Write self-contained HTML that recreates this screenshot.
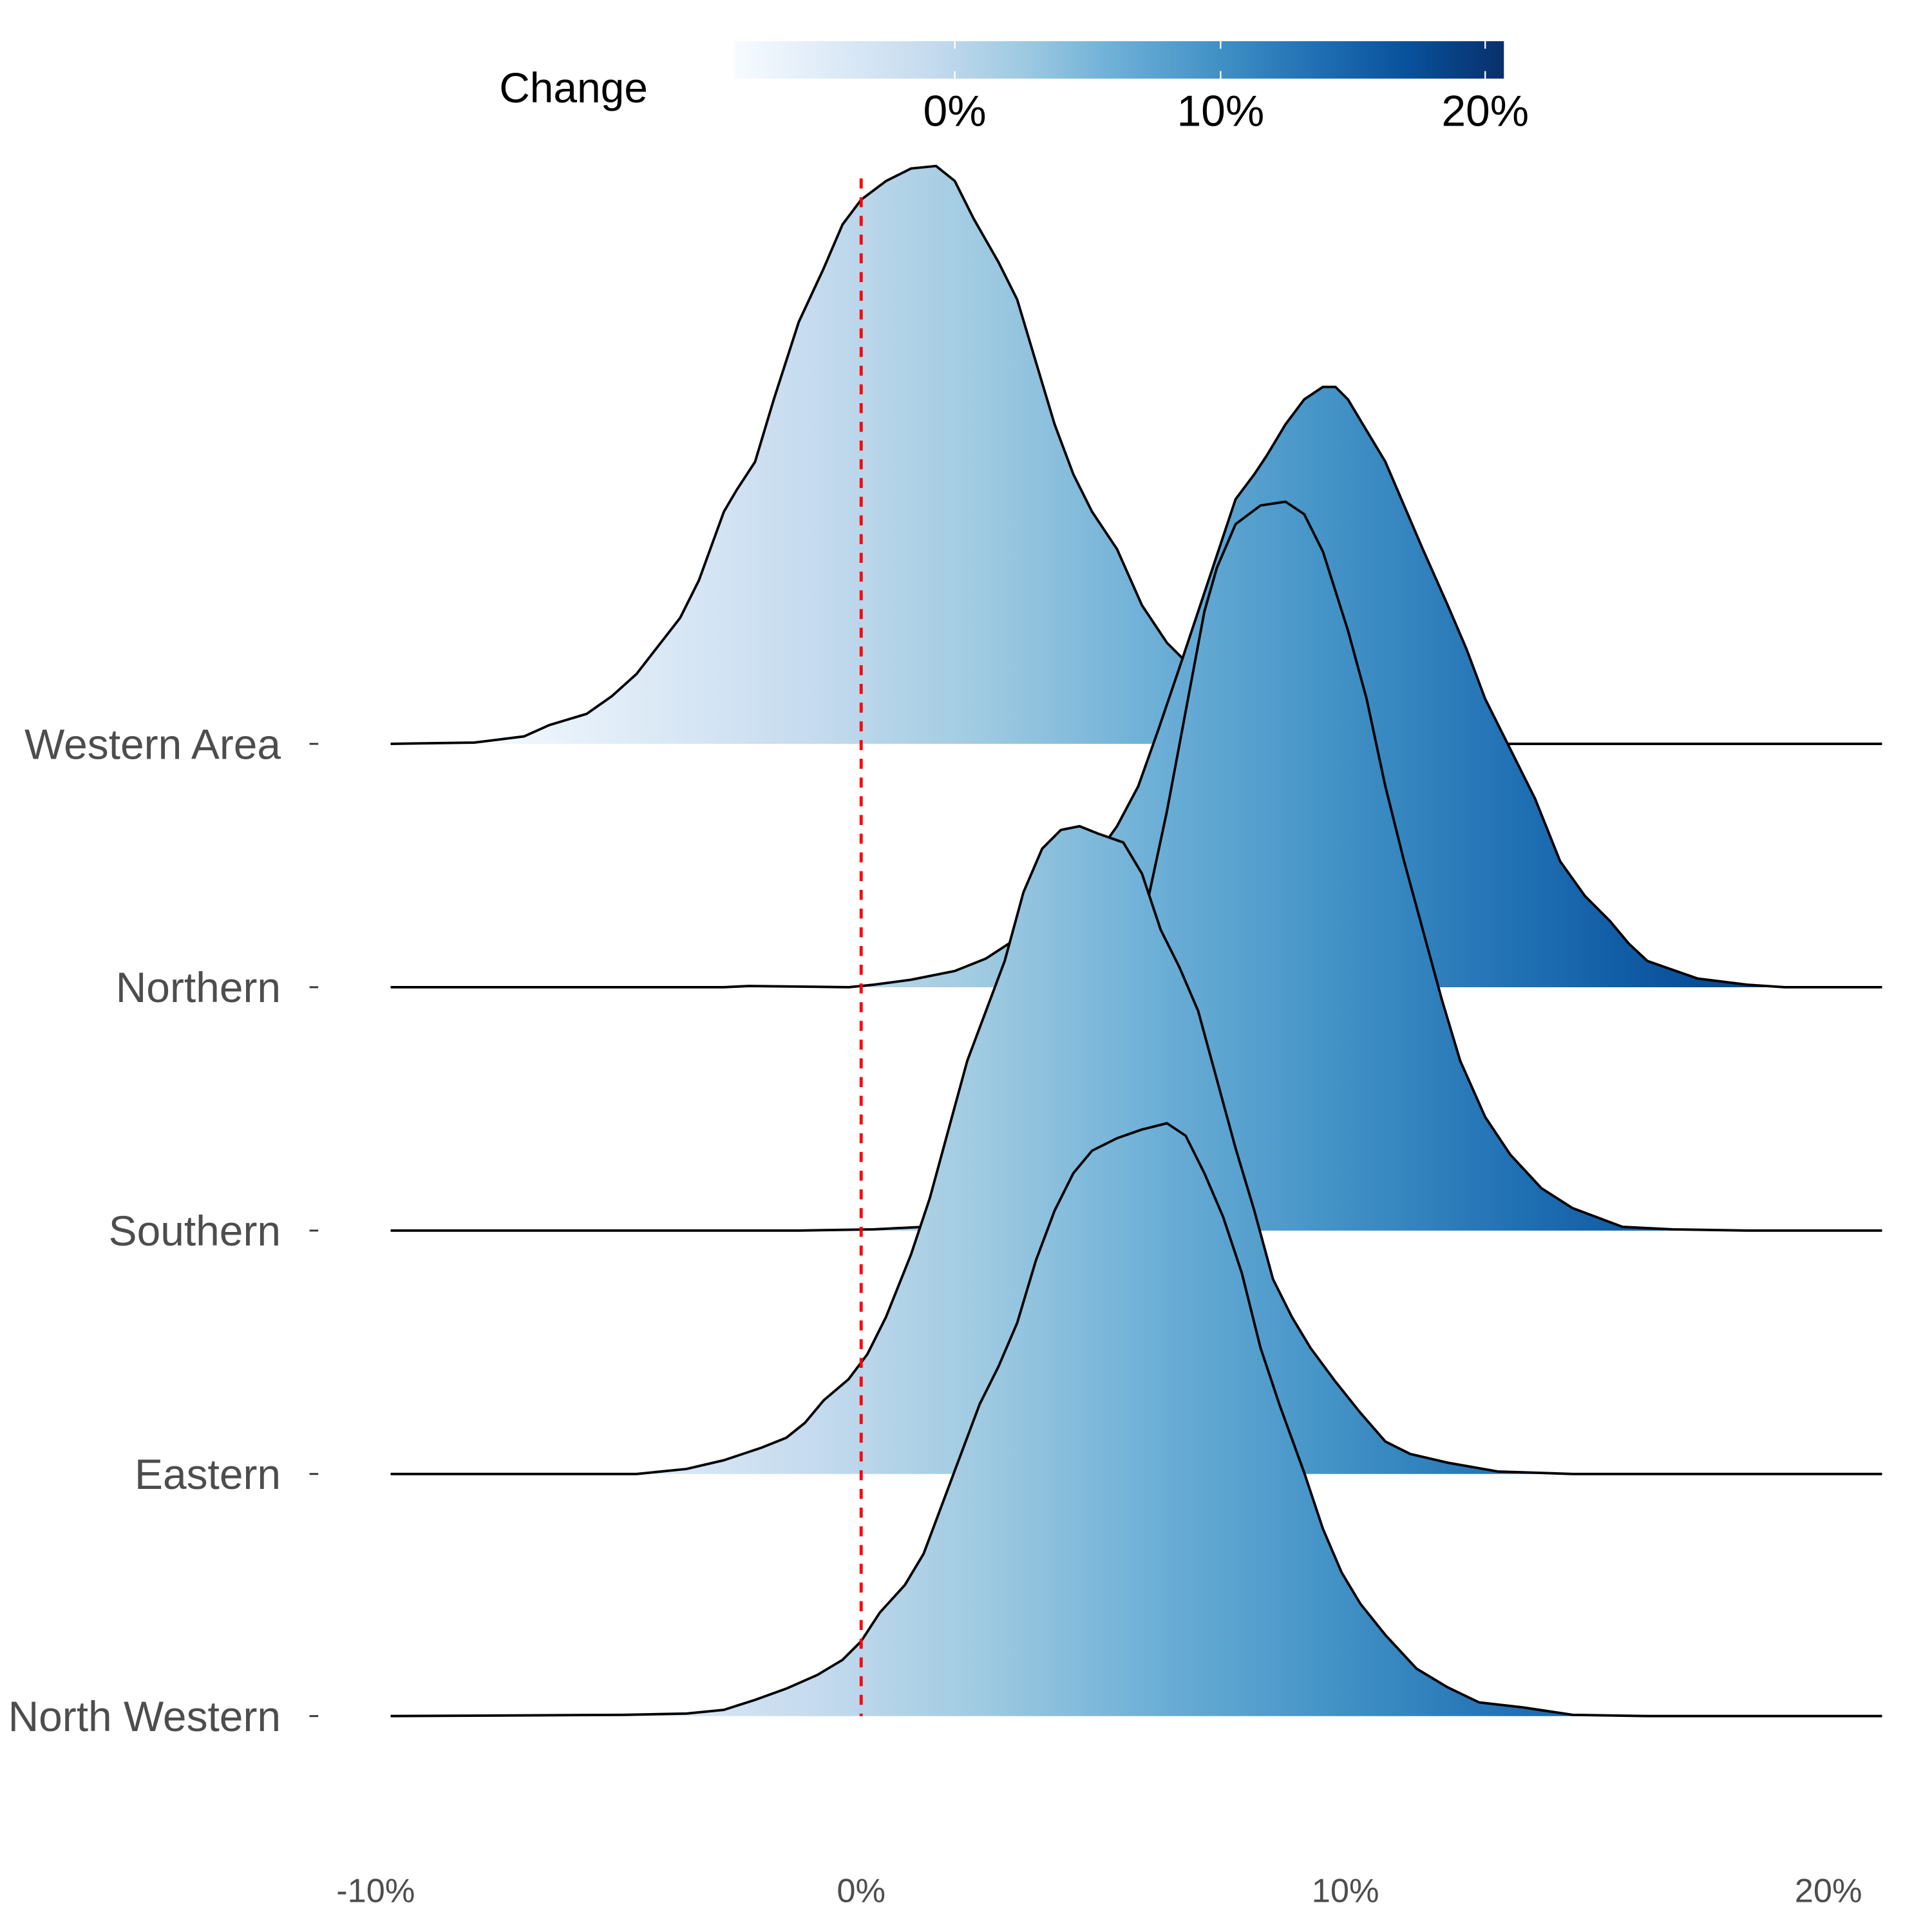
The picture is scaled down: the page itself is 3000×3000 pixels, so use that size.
<!DOCTYPE html>
<html><head><meta charset="utf-8"><style>
html,body{margin:0;padding:0;background:#fff;}
svg{display:block;}
</style></head><body>
<svg width="3000" height="3000" viewBox="0 0 1548 1548" xmlns="http://www.w3.org/2000/svg" font-family="Liberation Sans, Arial, sans-serif">
<defs>
<linearGradient id="g" gradientUnits="userSpaceOnUse" x1="368" y1="0" x2="1493" y2="0">
<stop offset="0" stop-color="#f7fbff"/><stop offset="0.125" stop-color="#deebf7"/><stop offset="0.25" stop-color="#c6dbef"/><stop offset="0.375" stop-color="#9ecae1"/><stop offset="0.5" stop-color="#6baed6"/><stop offset="0.625" stop-color="#4292c6"/><stop offset="0.75" stop-color="#2171b5"/><stop offset="0.875" stop-color="#08519c"/><stop offset="1" stop-color="#08306b"/>
</linearGradient>
<linearGradient id="cb" x1="0" y1="0" x2="1" y2="0">
<stop offset="0" stop-color="#f7fbff"/><stop offset="0.125" stop-color="#deebf7"/><stop offset="0.25" stop-color="#c6dbef"/><stop offset="0.375" stop-color="#9ecae1"/><stop offset="0.5" stop-color="#6baed6"/><stop offset="0.625" stop-color="#4292c6"/><stop offset="0.75" stop-color="#2171b5"/><stop offset="0.875" stop-color="#08519c"/><stop offset="1" stop-color="#08306b"/>
</linearGradient>
</defs>
<rect width="1548" height="1548" fill="#fff"/>
<rect x="588" y="33" width="617" height="30" fill="url(#cb)"/>
<g stroke="#fff" stroke-width="1.2">
<line x1="765" y1="33" x2="765" y2="39"/><line x1="765" y1="57" x2="765" y2="63"/>
<line x1="978" y1="33" x2="978" y2="39"/><line x1="978" y1="57" x2="978" y2="63"/>
<line x1="1190" y1="33" x2="1190" y2="39"/><line x1="1190" y1="57" x2="1190" y2="63"/>
</g>
<text x="400" y="82" font-size="34" fill="#000">Change</text>
<g font-size="35" fill="#000" text-anchor="middle">
<text x="765" y="101">0%</text><text x="978" y="101">10%</text><text x="1190" y="101">20%</text>
</g>
<g fill="url(#g)" stroke="#000" stroke-width="2" stroke-linejoin="round">
<polyline points="313,596 380,595 420,590 440,581 470,572 490,558 510,540 545,495 560,465 580,410 590,393 605,370 620,320 640,258 660,215 675,180 690,160 710,145 730,135 750,133 765,145 780,175 800,210 815,240 830,290 845,340 860,380 875,410 895,440 915,485 935,515 960,540 990,563 1030,580 1070,590 1120,595 1200,596 1508,596"/>
<polyline points="313,791 580,791 600,790 680,791 700,789 730,785 765,778 790,768 810,755 830,737 850,715 875,690 895,662 912,630 928,585 945,535 960,490 975,445 990,400 1005,380 1015,365 1030,340 1045,320 1060,310 1070,310 1080,320 1095,345 1110,370 1125,405 1140,440 1160,485 1175,520 1190,560 1210,600 1230,640 1250,690 1270,718 1290,738 1305,756 1320,770 1340,777 1360,784 1400,789 1430,791 1508,791"/>
<polyline points="313,986 640,986 700,985 740,983 770,980 800,970 820,960 840,935 860,905 880,865 895,820 910,770 920,720 935,650 950,570 965,490 975,455 990,420 1010,405 1030,402 1045,412 1060,442 1080,505 1095,560 1110,630 1125,690 1140,745 1155,800 1170,850 1190,895 1210,925 1235,952 1260,968 1300,983 1340,985 1400,986 1508,986"/>
<polyline points="313,1181 510,1181 550,1177 580,1170 610,1160 630,1152 645,1140 660,1122 680,1105 695,1085 710,1055 730,1005 745,960 760,905 775,850 790,810 805,770 820,715 835,680 850,665 865,662 880,668 900,675 915,700 930,745 945,775 960,810 975,865 990,920 1005,970 1020,1025 1035,1055 1050,1080 1070,1107 1090,1132 1110,1155 1130,1165 1160,1172 1200,1179 1260,1181 1508,1181"/>
<polyline points="313,1375 500,1374 550,1373 580,1370 605,1362 630,1353 655,1342 675,1330 690,1315 705,1292 725,1270 740,1245 755,1205 770,1165 785,1125 800,1095 815,1060 830,1010 845,970 860,940 875,922 895,912 915,905 935,900 950,910 965,940 980,975 995,1020 1010,1080 1025,1125 1045,1180 1060,1225 1075,1260 1090,1285 1110,1310 1135,1337 1160,1352 1185,1364 1220,1368 1260,1374 1320,1375 1508,1375"/>
</g>
<line x1="690" y1="143" x2="690" y2="1375" stroke="#ff0000" stroke-width="2.5" stroke-dasharray="8,7"/>
<g font-size="34" fill="#4d4d4d" text-anchor="end">
<text x="225" y="608">Western Area</text>
<text x="225" y="803">Northern</text>
<text x="225" y="998">Southern</text>
<text x="225" y="1193">Eastern</text>
<text x="225" y="1387">North Western</text>
</g>
<g stroke="#333" stroke-width="1.5">
<line x1="248" y1="596" x2="255" y2="596"/><line x1="248" y1="791" x2="255" y2="791"/><line x1="248" y1="986" x2="255" y2="986"/><line x1="248" y1="1181" x2="255" y2="1181"/><line x1="248" y1="1375" x2="255" y2="1375"/>
</g>
<g font-size="27" fill="#4d4d4d" text-anchor="middle">
<text x="301" y="1524">-10%</text><text x="690" y="1524">0%</text><text x="1078" y="1524">10%</text><text x="1465" y="1524">20%</text>
</g>
</svg>
</body></html>
